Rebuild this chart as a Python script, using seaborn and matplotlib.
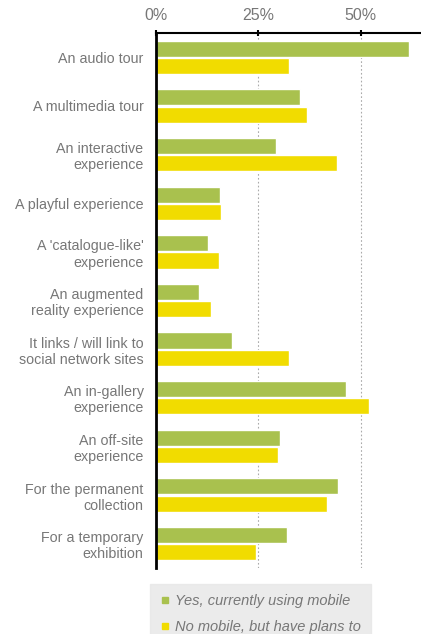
import pandas as pd
import seaborn as sns
import matplotlib.pyplot as plt
from matplotlib.lines import Line2D

categories = [
    "An audio tour",
    "A multimedia tour",
    "An interactive\nexperience",
    "A playful experience",
    "A 'catalogue-like'\nexperience",
    "An augmented\nreality experience",
    "It links / will link to\nsocial network sites",
    "An in-gallery\nexperience",
    "An off-site\nexperience",
    "For the permanent\ncollection",
    "For a temporary\nexhibition",
]
yes_using = [61.8, 35.3, 29.4, 15.6, 12.7, 10.5, 18.5, 46.3, 30.4, 44.4, 32.1]
plans_to = [32.4, 37.0, 44.1, 16.0, 15.3, 13.5, 32.4, 52.0, 29.9, 41.7, 24.5]
series = ["Yes, currently using mobile", "No mobile, but have plans to"]
colors = ["#a9c14e", "#f1dc00"]

df = pd.DataFrame({
    "category": categories * 2,
    "value": yes_using + plans_to,
    "series": [series[0]] * len(categories) + [series[1]] * len(categories),
})

sns.set_style("white")
plt.rcParams["font.family"] = ["Liberation Sans", "DejaVu Sans"]
grey = "#777777"

fig = plt.figure(figsize=(4.21, 6.34), dpi=100)
ax = fig.add_axes([156 / 421, 1 - 568 / 634, (420 - 156) / 421, (568 - 33) / 634])

sns.barplot(data=df, x="value", y="category", hue="series", palette=colors,
            orient="h", width=0.71, gap=0.07, ax=ax, legend=False,
            saturation=1)

ax.set_xlim(0, 64.5)
ax.set_ylim(len(categories) - 0.5, -0.5)
ax.set_xlabel("")
ax.set_ylabel("")

# percentage axis on top
ax.xaxis.tick_top()
ax.set_xticks([0, 25, 50])
ax.set_xticklabels(["0%", "25%", "50%"])
ax.tick_params(axis="x", length=4, width=1.5, color="black", direction="inout",
               labelsize=11.5, labelcolor=grey, pad=5)
for x in [25, 50]:
    ax.axvline(x, color="#aaaaaa", linestyle=(0, (1.5, 2)), linewidth=0.8, zorder=0)

# category labels, ticks at group boundaries
ax.tick_params(axis="y", which="major", length=0, labelsize=10.3, labelcolor=grey, pad=9)
ax.set_yticks([i + 0.5 for i in range(-1, len(categories))], minor=True)
ax.tick_params(axis="y", which="minor", length=4, width=1.5, color="black")
for lab in ax.get_yticklabels():
    lab.set_horizontalalignment("right")
    lab.set_multialignment("right")

for side in ["right", "bottom"]:
    ax.spines[side].set_visible(False)
ax.spines["top"].set_linewidth(1.5)
ax.spines["left"].set_linewidth(2)
ax.spines["top"].set_color("black")
ax.spines["left"].set_color("black")

handles = [Line2D([], [], marker="s", linestyle="", markersize=4.5,
                  markerfacecolor=c, markeredgecolor=c) for c in colors]
leg = fig.legend(handles, series, loc="upper left",
                 bbox_to_anchor=(150 / 421, 1 - 584 / 634), frameon=True,
                 fancybox=False, handlelength=0.6, handletextpad=0.4,
                 labelspacing=0.8, borderpad=0.7, borderaxespad=0,
                 prop={"style": "italic", "size": 10.5})
leg.get_frame().set_facecolor("#e6e6e6")
leg.get_frame().set_edgecolor("#e6e6e6")
for t in leg.get_texts():
    t.set_color(grey)

plt.savefig("out.png", dpi=100)
